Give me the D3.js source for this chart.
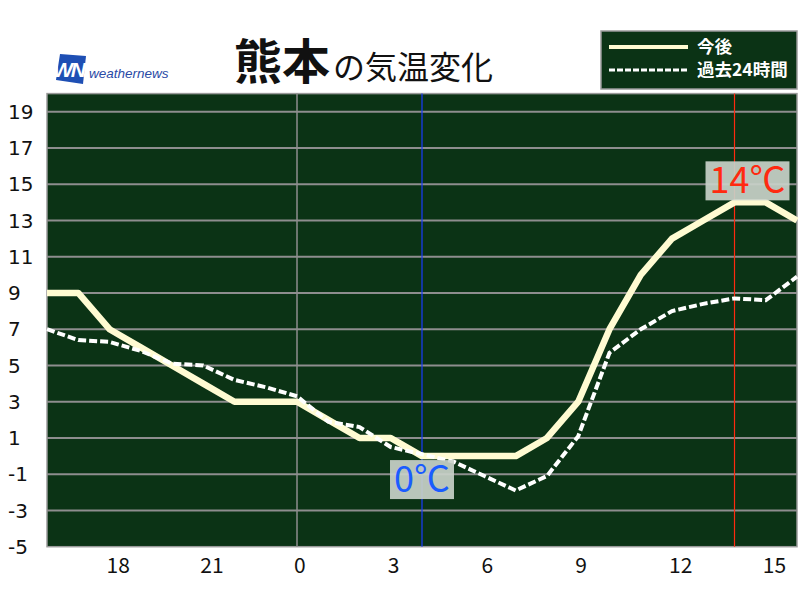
<!DOCTYPE html>
<html>
<head>
<meta charset="utf-8">
<script src="https://cdn.jsdelivr.net/npm/d3@7"></script>
<style>
  body { margin: 0; background: #fff; }
  svg { display: block; font-family: "Noto Sans CJK JP", "Noto Sans", sans-serif; }
</style>
</head>
<body>
<svg id="chart" width="800" height="600"></svg>
<script>
// hours from 16:00 today to 16:00 tomorrow (24 = midnight)
var hours = [16, 17, 18, 19, 20, 21, 22, 23, 24, 25, 26, 27, 28, 29, 30, 31, 32, 33, 34, 35, 36, 37, 38, 39, 40];
// 今後 (forecast)
var forecast = [9, 9, 7, 6, 5, 4, 3, 3, 3, 2, 1, 1, 0, 0, 0, 0, 1, 3, 7, 10, 12, 13, 14, 14, 13];
// 過去24時間 (past 24h)
var past = [7, 6.4, 6.3, 5.8, 5.1, 5.0, 4.2, 3.8, 3.3, 1.9, 1.6, 0.5, 0.1, -0.3, -1.1, -1.9, -1.1, 1.1, 5.7, 7.0, 8.0, 8.4, 8.7, 8.6, 9.9];
var xTickHours = [18, 21, 24, 27, 30, 33, 36, 39];
var xTickLabels = ["18", "21", "0", "3", "6", "9", "12", "15"];
var yTicks = [19, 17, 15, 13, 11, 9, 7, 5, 3, 1, -1, -3, -5];

var svg = d3.select("#chart");
// note: "top" is window.top, so use other names
var plotL = 47, plotR = 797, plotT = 93.6, plotB = 546.7;

var x = d3.scaleLinear().domain([16, 40]).range([plotL, plotR]);
var y = d3.scaleLinear().domain([-5, 20]).range([plotB, plotT]);

// plot background
svg.append("rect")
  .attr("x", plotL).attr("y", plotT)
  .attr("width", plotR - plotL).attr("height", plotB - plotT)
  .attr("fill", "#0b3315")
  .attr("stroke", "#9a9a9a").attr("stroke-width", 1.5);

// horizontal grid
svg.append("g").selectAll("line")
  .data(yTicks.filter(function(d) { return d > -5; }))
  .enter().append("line")
  .attr("x1", plotL).attr("x2", plotR)
  .attr("y1", function(d) { return y(d); })
  .attr("y2", function(d) { return y(d); })
  .attr("stroke", "#8e8e8e").attr("stroke-width", 2);

// midnight line
svg.append("line")
  .attr("x1", x(24)).attr("x2", x(24))
  .attr("y1", plotT).attr("y2", plotB)
  .attr("stroke", "#8e8e8e").attr("stroke-width", 1.5);

// min / max markers
var minIdx = d3.minIndex(forecast), maxIdx = d3.maxIndex(forecast);
svg.append("line")
  .attr("x1", x(hours[minIdx])).attr("x2", x(hours[minIdx]))
  .attr("y1", plotT).attr("y2", plotB)
  .attr("stroke", "#1a3cff").attr("stroke-width", 1.2);
svg.append("line")
  .attr("x1", x(hours[maxIdx])).attr("x2", x(hours[maxIdx]))
  .attr("y1", plotT).attr("y2", plotB)
  .attr("stroke", "#ff2a10").attr("stroke-width", 1.2);

var line = d3.line()
  .x(function(d, i) { return x(hours[i]); })
  .y(function(d) { return y(d); });

svg.append("path")
  .datum(forecast)
  .attr("d", line)
  .attr("fill", "none")
  .attr("stroke", "#fffbd2")
  .attr("stroke-width", 6.5)
  .attr("stroke-linejoin", "round");

svg.append("path")
  .datum(past)
  .attr("d", line)
  .attr("fill", "none")
  .attr("stroke", "#ffffff")
  .attr("stroke-width", 4)
  .attr("stroke-dasharray", "8,3");

// value boxes
function valueBox(cx, yTop, txt, color) {
  var g = svg.append("g");
  var r = g.append("rect").attr("fill", "#c9d1c9").attr("opacity", 0.92);
  var t = g.append("text")
    .attr("x", cx).attr("y", yTop + 32)
    .attr("text-anchor", "middle")
    .attr("font-size", 36)
    .attr("fill", color)
    .text(txt);
  var bb = t.node().getBBox();
  r.attr("x", bb.x - 4).attr("y", yTop)
    .attr("width", bb.width + 8).attr("height", 39);
}
valueBox(x(hours[minIdx]), y(forecast[minIdx]) + 4, forecast[minIdx] + "℃", "#1a5cff");
valueBox(x(hours[maxIdx]) + 13, y(forecast[maxIdx]) - 41, forecast[maxIdx] + "℃", "#ff2a10");

// y labels
svg.append("g").selectAll("text")
  .data(yTicks)
  .enter().append("text")
  .attr("x", 8)
  .attr("y", function(d) { return y(d); })
  .attr("dy", "0.36em")
  .attr("font-family", "DejaVu Sans, sans-serif")
  .attr("font-size", 20)
  .attr("fill", "#111")
  .text(function(d) { return d; });

// x labels
svg.append("g").selectAll("text")
  .data(xTickHours)
  .enter().append("text")
  .attr("x", function(d) { return x(d) - 3; })
  .attr("y", 573)
  .attr("font-size", 21)
  .attr("fill", "#111")
  .text(function(d, i) { return xTickLabels[i]; });

// title
var title = svg.append("text").attr("x", 234).attr("y", 79).attr("fill", "#111");
title.append("tspan").attr("font-size", 48).attr("font-weight", "bold").text("熊本");
title.append("tspan").attr("font-size", 32).attr("dx", 3).text("の気温変化");

// logo
svg.append("polygon")
  .attr("points", "60,54 86,56 83,84 56,80")
  .attr("fill", "#1e4fb4");
svg.append("text")
  .attr("x", 53).attr("y", 77)
  .attr("font-size", 21).attr("font-weight", "bold").attr("font-style", "italic")
  .attr("font-family", "Liberation Sans, Arial, sans-serif")
  .attr("letter-spacing", -2)
  .attr("fill", "#fff")
  .text("WN");
svg.append("text")
  .attr("x", 89).attr("y", 78)
  .attr("font-size", 13.5).attr("font-style", "italic")
  .attr("font-family", "Liberation Sans, Arial, sans-serif")
  .attr("fill", "#2a4aa6")
  .text("weathernews");

// legend
svg.append("rect")
  .attr("x", 601).attr("y", 31).attr("width", 196).attr("height", 58)
  .attr("fill", "#0b3315")
  .attr("stroke", "#9a9a9a").attr("stroke-width", 1.5);
svg.append("line")
  .attr("x1", 609).attr("x2", 688).attr("y1", 47).attr("y2", 47)
  .attr("stroke", "#fffbd2").attr("stroke-width", 4);
svg.append("line")
  .attr("x1", 609).attr("x2", 688).attr("y1", 70).attr("y2", 70)
  .attr("stroke", "#fff").attr("stroke-width", 3).attr("stroke-dasharray", "6,2");
svg.append("text")
  .attr("x", 697).attr("y", 47).attr("dy", "0.36em")
  .attr("font-size", 17.5).attr("font-weight", "bold").attr("fill", "#fff")
  .text("今後");
svg.append("text")
  .attr("x", 697).attr("y", 70).attr("dy", "0.36em")
  .attr("font-size", 17.5).attr("font-weight", "bold").attr("fill", "#fff")
  .text("過去24時間");
</script>
</body>
</html>
